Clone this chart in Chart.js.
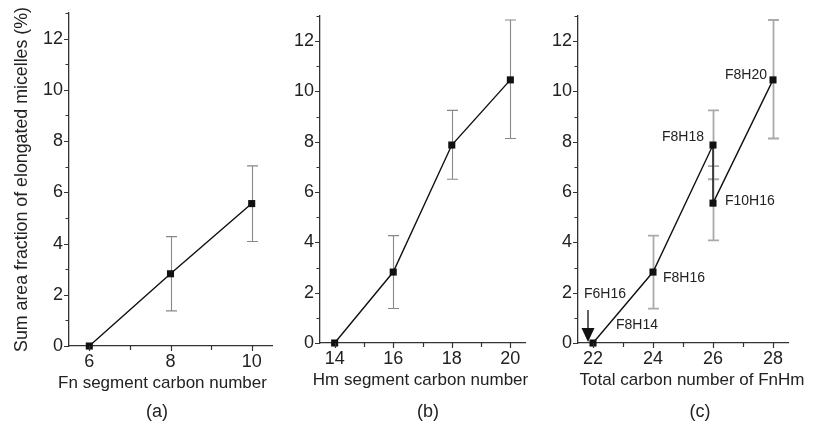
<!DOCTYPE html>
<html><head><meta charset="utf-8">
<script src="https://cdn.jsdelivr.net/npm/chart.js@4.4.1/dist/chart.umd.min.js"></script>
<style>
html,body{margin:0;padding:0;background:#fff;}
#wrap{position:relative;width:817px;height:427px;overflow:hidden;background:#fff;font-family:"Liberation Sans",Arial,sans-serif;}
.panel{position:absolute;top:0;height:427px;}
.cap{position:absolute;font-size:18px;color:#222;transform:translate(-50%,-50%);white-space:nowrap;line-height:1;}
</style></head><body>
<div id="wrap">
 <div class="panel" style="left:0;width:280px"><canvas id="ca" width="280" height="427"></canvas></div>
 <div class="panel" style="left:280px;width:265px"><canvas id="cb" width="265" height="427"></canvas></div>
 <div class="panel" style="left:545px;width:272px"><canvas id="cc" width="272" height="427"></canvas></div>
 <div class="cap" style="left:157px;top:411px">(a)</div>
 <div class="cap" style="left:428px;top:411px">(b)</div>
 <div class="cap" style="left:700px;top:411px">(c)</div>
</div>
<script>
// ---------- data ----------
const yTickLabels = [0, 2, 4, 6, 8, 10, 12];

const fnCarbon   = [6, 8, 10];
const fnFraction = [0, 2.82, 5.56];
const fnErrLow   = [null, 1.37, 4.08];
const fnErrHigh  = [null, 4.27, 7.03];
const fnTickLabels = [6, 8, 10];

const hmCarbon   = [14, 16, 18, 20];
const hmFraction = [0, 2.82, 7.87, 10.46];
const hmErrLow   = [null, 1.37, 6.51, 8.13];
const hmErrHigh  = [null, 4.27, 9.25, 12.84];
const hmTickLabels = [14, 16, 18, 20];

const totalCarbon   = [22, 24, 26, 26, 28];
const totalFraction = [0, 2.82, 7.87, 5.56, 10.46];
const totalErrLow   = [null, 1.37, 6.51, 4.08, 8.13];
const totalErrHigh  = [null, 4.27, 9.25, 7.03, 12.84];
const totalNames    = ['F8H14', 'F8H16', 'F8H18', 'F10H16', 'F8H20'];
const totalTickLabels = [22, 24, 26, 28];
const arrowName = 'F6H16';

// ---------- styles ----------
const FONT = '"Liberation Sans", Arial, sans-serif';
const AXIS = '#333';
const TEXT = '#222';
const labelStyle = { // offsets (px) of annotation text from its data point
  'F8H14':  {dx: 23, dy: -18, align: 'left'},
  'F8H16':  {dx: 10, dy: 6,   align: 'left'},
  'F8H18':  {dx: -9, dy: -8,  align: 'right'},
  'F10H16': {dx: 12, dy: -2,  align: 'left'},
  'F8H20':  {dx: -6, dy: -5,  align: 'right'}
};

function axisDecor(p) {
  return {
    id: 'axisDecor',
    afterDraw(chart) {
      const {ctx} = chart; const xs = chart.scales.x, ys = chart.scales.y;
      ctx.save(); ctx.strokeStyle = AXIS; ctx.lineWidth = 1.2; ctx.beginPath();
      for (let v = Math.ceil(ys.min); v <= ys.max; v++) {
        const y = Math.round(ys.getPixelForValue(v)) + 0.5;
        const len = v % 2 === 0 ? 5 : 3.5;
        ctx.moveTo(ys.right, y); ctx.lineTo(ys.right - len, y);
      }
      for (let v = Math.ceil(xs.min); v <= xs.max; v++) {
        const x = Math.round(xs.getPixelForValue(v)) + 0.5;
        const len = v % 2 === 0 ? 5 : 4;
        ctx.moveTo(x, xs.top); ctx.lineTo(x, xs.top + len);
      }
      ctx.stroke();
      // x tick labels
      ctx.fillStyle = TEXT; ctx.font = '18px ' + FONT; ctx.textAlign = 'center'; ctx.textBaseline = 'middle';
      p.xLabels.forEach(v => ctx.fillText(String(v), xs.getPixelForValue(v), xs.top + 16));
      // x axis title
      ctx.font = '17px ' + FONT;
      ctx.fillText(p.xTitle, (xs.left + xs.right) / 2 + p.titleDx, xs.top + 37);
      ctx.restore();
    }
  };
}

function errorBars(lo, hi, color, width) {
  return {
    id: 'errorBars',
    beforeDatasetsDraw(chart) {
      const {ctx} = chart; const xs = chart.scales.x, ys = chart.scales.y;
      const pts = chart.data.datasets[0].data; const cap = 5.5;
      ctx.save(); ctx.strokeStyle = color; ctx.lineWidth = width; ctx.beginPath();
      pts.forEach((pt, i) => {
        if (lo[i] == null) return;
        const x = Math.round(xs.getPixelForValue(pt.x)) + 0.5;
        const yl = ys.getPixelForValue(lo[i]), yh = ys.getPixelForValue(hi[i]);
        ctx.moveTo(x, yl); ctx.lineTo(x, yh);
        ctx.moveTo(x - cap, yl); ctx.lineTo(x + cap, yl);
        ctx.moveTo(x - cap, yh); ctx.lineTo(x + cap, yh);
      });
      ctx.stroke(); ctx.restore();
    }
  };
}

const annotations = {
  id: 'annotations',
  afterDatasetsDraw(chart) {
    const {ctx} = chart; const xs = chart.scales.x, ys = chart.scales.y;
    const pts = chart.data.datasets[0].data;
    ctx.save(); ctx.fillStyle = TEXT; ctx.font = '14px ' + FONT; ctx.textBaseline = 'middle';
    totalNames.forEach((n, i) => {
      const s = labelStyle[n];
      const x = xs.getPixelForValue(pts[i].x), y = ys.getPixelForValue(pts[i].y);
      ctx.textAlign = s.align; ctx.fillText(n, x + s.dx, y + s.dy);
    });
    // arrow marking F6H16 (same total carbon number as F8H14)
    const ax = xs.getPixelForValue(pts[0].x) - 5, ay = ys.getPixelForValue(pts[0].y);
    ctx.textAlign = 'center'; ctx.fillText(arrowName, ax + 17, ay - 49);
    ctx.strokeStyle = '#111'; ctx.lineWidth = 1.3; ctx.beginPath();
    ctx.moveTo(ax, ay - 33); ctx.lineTo(ax, ay - 14); ctx.stroke();
    ctx.fillStyle = '#111'; ctx.beginPath();
    ctx.moveTo(ax - 6.5, ay - 15); ctx.lineTo(ax + 6.5, ay - 15); ctx.lineTo(ax, ay - 1); ctx.closePath(); ctx.fill();
    ctx.restore();
  }
};

function makePanel(id, p) {
  return new Chart(document.getElementById(id), {
    type: 'scatter',
    data: { datasets: [{
      data: p.xs.map((x, i) => ({x, y: p.ys[i]})),
      showLine: true, borderColor: '#111', borderWidth: 1.4, tension: 0,
      pointStyle: 'rect', pointRadius: 5, pointHoverRadius: 5,
      pointBackgroundColor: '#111', pointBorderWidth: 0, clip: false
    }]},
    options: {
      responsive: false, animation: false, devicePixelRatio: 1, events: [],
      layout: { padding: { top: p.padTop, right: p.padRight, left: 0, bottom: 0 } },
      plugins: { legend: {display: false}, tooltip: {enabled: false} },
      scales: {
        x: {
          type: 'linear', min: p.xMin, max: p.xMax,
          grid: {display: false, drawTicks: false},
          border: {display: true, color: AXIS, width: 1.3},
          ticks: { display: false, stepSize: 1 },
          afterFit: s => { s.height = 427 - p.bottom; s.paddingLeft = 0; s.paddingRight = 0; }
        },
        y: {
          min: 0, max: 13,
          grid: {display: false, drawTicks: false},
          border: {display: true, color: AXIS, width: 1.3},
          ticks: { stepSize: 1, autoSkip: false, padding: 6, color: TEXT,
                   font: {family: FONT, size: 18},
                   callback: v => yTickLabels.includes(v) ? String(v) : '' },
          title: { display: !!p.yTitle, text: p.yTitle || '', color: TEXT,
                   font: {family: FONT, size: 17.8}, padding: {top: 11, bottom: 0} },
          afterFit: s => { s.width = p.axisX; s.paddingTop = 0; s.paddingBottom = 0; }
        }
      }
    },
    plugins: [errorBars(p.lo, p.hi, p.errColor, p.errWidth), axisDecor(p)].concat(p.extra || [])
  });
}

makePanel('ca', { xs: fnCarbon, ys: fnFraction, lo: fnErrLow, hi: fnErrHigh, xLabels: fnTickLabels,
  xMin: 5.5, xMax: 10.5, axisX: 69, padTop: 13, padRight: 8, bottom: 346, titleDx: -8,
  xTitle: 'Fn segment carbon number', yTitle: 'Sum area fraction of elongated micelles (%)',
  errColor: '#888', errWidth: 1.1 });
makePanel('cb', { xs: hmCarbon, ys: hmFraction, lo: hmErrLow, hi: hmErrHigh, xLabels: hmTickLabels,
  xMin: 13.5, xMax: 20.5, axisX: 40, padTop: 16, padRight: 20, bottom: 343, titleDx: -2,
  xTitle: 'Hm segment carbon number', errColor: '#888', errWidth: 1.1 });
makePanel('cc', { xs: totalCarbon, ys: totalFraction, lo: totalErrLow, hi: totalErrHigh, xLabels: totalTickLabels,
  xMin: 21.5, xMax: 28.5, axisX: 33, padTop: 16, padRight: 29, bottom: 343, titleDx: 9,
  xTitle: 'Total carbon number of FnHm', errColor: '#aaa', errWidth: 1.8, extra: [annotations] });
</script>
</body></html>
